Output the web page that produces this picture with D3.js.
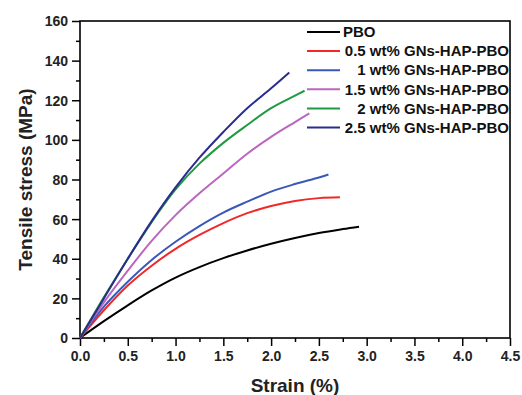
<!DOCTYPE html>
<html>
<head>
<meta charset="utf-8">
<script src="https://cdn.jsdelivr.net/npm/d3@7"></script>
<style>
  body { margin: 0; background: #fff; }
  text { font-family: Arial, "Liberation Sans", sans-serif; font-weight: bold; }
</style>
</head>
<body>
<svg id="chart" width="522" height="395"></svg>
<script>
// series names and colours
const seriesNames = ["PBO", "0.5 wt% GNs-HAP-PBO", "1 wt% GNs-HAP-PBO",
    "1.5 wt% GNs-HAP-PBO", "2 wt% GNs-HAP-PBO", "2.5 wt% GNs-HAP-PBO"]
const seriesColors = ["#000000", "#f02828", "#3a58b8", "#bb66bf", "#1f9a42", "#2b2d8c"]

// strain (%) / tensile stress (MPa)
const strainPBO = [0, 0.25, 0.5, 0.75, 1.0, 1.25, 1.5, 1.75, 2.0, 2.25, 2.5, 2.75, 2.92]
const stressPBO = [0, 8.5, 16.5, 24, 30.5, 35.8, 40.3, 44.2, 47.6, 50.5, 53, 55, 56.2]
const strain05 = [0, 0.25, 0.5, 0.75, 1.0, 1.25, 1.5, 1.75, 2.0, 2.25, 2.5, 2.72]
const stress05 = [0, 14, 26.5, 36.5, 45, 52, 58, 63, 66.6, 69.2, 70.6, 71]
const strain1 = [0, 0.25, 0.5, 0.75, 1.0, 1.25, 1.5, 1.75, 2.0, 2.25, 2.5, 2.6]
const stress1 = [0, 15.8, 28.4, 39.4, 48.6, 56.5, 63.3, 68.8, 73.9, 77.7, 81, 82.5]
const strain15 = [0, 0.25, 0.5, 0.75, 1.0, 1.25, 1.5, 1.75, 2.0, 2.25, 2.4]
const stress15 = [0, 18, 34, 49, 62, 73, 83, 93, 101.5, 109, 113.4]
const strain2 = [0, 0.25, 0.5, 0.75, 1.0, 1.25, 1.5, 1.75, 2.0, 2.25, 2.35]
const stress2 = [0, 20.5, 40, 58.5, 75, 88, 98.5, 107.5, 116, 122.3, 124.8]
const strain25 = [0, 0.25, 0.5, 0.75, 1.0, 1.25, 1.5, 1.75, 2.0, 2.19]
const stress25 = [0, 20, 40, 59, 76, 91, 104, 116, 126, 134]

const xTicks = [0, 0.5, 1.0, 1.5, 2.0, 2.5, 3.0, 3.5, 4.0, 4.5]
const yTicks = [0, 20, 40, 60, 80, 100, 120, 140, 160]

const strains = [strainPBO, strain05, strain1, strain15, strain2, strain25]
const stresses = [stressPBO, stress05, stress1, stress15, stress2, stress25]

const svg = d3.select("#chart")
const plotL = 80, plotR = 510, plotT = 21, plotB = 338

const x = d3.scaleLinear().domain([0, 4.5]).range([plotL, plotR])
const y = d3.scaleLinear().domain([0, 160]).range([plotB, plotT])

// minor ticks
const xMinor = d3.range(0.25, 4.5, 0.5)
const yMinor = d3.range(10, 160, 20)

svg.append("g")
    .attr("transform", `translate(0,${plotB})`)
    .call(d3.axisBottom(x).tickValues(xMinor).tickSize(4).tickFormat(""))
svg.append("g")
    .attr("transform", `translate(${plotL},0)`)
    .call(d3.axisLeft(y).tickValues(yMinor).tickSize(4).tickFormat(""))

const xAxis = svg.append("g")
    .attr("transform", `translate(0,${plotB})`)
    .call(d3.axisBottom(x).tickValues(xTicks).tickSize(8).tickPadding(5).tickFormat(d3.format(".1f")))
const yAxis = svg.append("g")
    .attr("transform", `translate(${plotL},0)`)
    .call(d3.axisLeft(y).tickValues(yTicks).tickSize(8).tickPadding(4).tickFormat(d3.format("d")))

svg.selectAll(".domain").remove()
svg.selectAll(".tick line").attr("stroke", "#000").attr("stroke-width", 1.5)
xAxis.selectAll("text").attr("font-size", 14).attr("fill", "#222")
yAxis.selectAll("text").attr("font-size", 14).attr("fill", "#222").attr("dy", "0.35em")

// frame
svg.append("rect")
    .attr("x", plotL).attr("y", plotT)
    .attr("width", plotR - plotL).attr("height", plotB - plotT)
    .attr("fill", "none").attr("stroke", "#000").attr("stroke-width", 1.6)

// curves
const line = d3.line()
    .x((d) => x(d[0]))
    .y((d) => y(d[1]))
    .curve(d3.curveCatmullRom)

strains.forEach((s, i) => {
    const pts = s.map((v, j) => [v, stresses[i][j]])
    svg.append("path")
        .datum(pts)
        .attr("d", line)
        .attr("fill", "none")
        .attr("stroke", seriesColors[i])
        .attr("stroke-width", 2)
})

// legend
const legend = svg.append("g")
seriesNames.forEach((name, i) => {
    const ly = 32 + i * 19.1
    legend.append("line")
        .attr("x1", 307).attr("x2", 340)
        .attr("y1", ly).attr("y2", ly)
        .attr("stroke", seriesColors[i]).attr("stroke-width", 2)
    legend.append("text")
        .attr("x", i == 0 ? 343 : 509)
        .attr("y", ly)
        .attr("dy", "0.35em")
        .attr("text-anchor", i == 0 ? "start" : "end")
        .attr("font-size", 15)
        .attr("fill", "#111")
        .text(name)
})

// axis titles
svg.append("text")
    .attr("x", (plotL + plotR) / 2)
    .attr("y", 392)
    .attr("text-anchor", "middle")
    .attr("font-size", 19)
    .attr("fill", "#222")
    .text("Strain (%)")

svg.append("text")
    .attr("transform", `translate(32,${(plotT + plotB) / 2}) rotate(-90)`)
    .attr("text-anchor", "middle")
    .attr("font-size", 19)
    .attr("fill", "#222")
    .text("Tensile stress (MPa)")
</script>
</body>
</html>
